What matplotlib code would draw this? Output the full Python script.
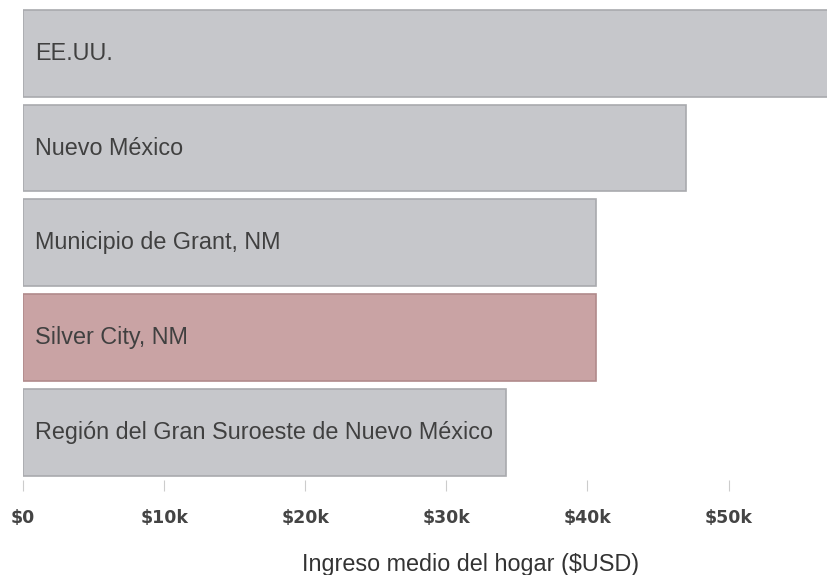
import matplotlib
matplotlib.use("Agg")
import matplotlib.pyplot as plt
from matplotlib.ticker import FuncFormatter

regions = ["EE.UU.", "Nuevo México", "Municipio de Grant, NM",
           "Silver City, NM", "Región del Gran Suroeste de Nuevo México"]
income = [57652, 47000, 40600, 40600, 34200]
highlight = "Silver City, NM"
ticks = [0, 10000, 20000, 30000, 40000, 50000]


def main():
    fig = plt.figure(figsize=(8.27, 5.75), dpi=100)
    # axes runs past the right edge, like the cropped original
    ax = fig.add_axes([23 / 827, 0.166, (919 - 23) / 827, 0.8235])

    colors = ["#c9a3a4" if r == highlight else "#c6c7cb" for r in regions]
    edges = ["#b08a8b" if r == highlight else "#a9aaae" for r in regions]
    y = list(range(len(regions)))
    ax.barh(y, income, height=0.915, color=colors, edgecolor=edges, linewidth=1.2)

    for yi, name in zip(y, regions):
        ax.text(850, yi, name, va="center", ha="left", fontsize=16.8,
                family="Liberation Sans", color="#404040")

    ax.set_ylim(len(regions) - 0.5, -0.5)
    ax.set_xlim(0, 63500)
    ax.set_yticks([])
    ax.set_xticks(ticks)
    ax.xaxis.set_major_formatter(FuncFormatter(
        lambda v, _: "$0" if v == 0 else f"${int(v / 1000)}k"))
    for lbl in ax.get_xticklabels():
        lbl.set_fontweight("bold")
        lbl.set_family("DejaVu Sans")
    ax.tick_params(axis="x", length=8, width=0.8, color="#cccccc", pad=13,
                   labelsize=12.5, labelcolor="#444444")
    for s in ax.spines.values():
        s.set_visible(False)

    ax.set_xlabel("Ingreso medio del hogar ($USD)", fontsize=16.8,
                  family="Liberation Sans", color="#333333", labelpad=19)

    fig.savefig("out.png", dpi=100)


if __name__ == "__main__":
    main()
